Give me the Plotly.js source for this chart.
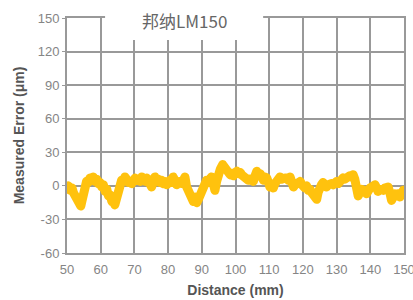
<!DOCTYPE html>
<html>
<head>
<meta charset="utf-8">
<script src="https://cdn.plot.ly/plotly-3.0.1.min.js"></script>
<style>
html,body{margin:0;padding:0;background:#fff;}
#chart{width:413px;height:300px;}
#chart .scatterlayer path.js-line{stroke-linejoin:round !important;stroke-linecap:round !important;}
</style>
</head>
<body>
<div id="chart"></div>
<script>
const chartTitle = "邦纳LM150";
const xTitle = "Distance (mm)";
const yTitle = "Measured Error (μm)";
const xTicks = [50, 60, 70, 80, 90, 100, 110, 120, 130, 140, 150];
const yTicks = [-60, -30, 0, 30, 60, 90, 120, 150];

const distance = [
  50, 50.4, 51, 51.5, 51.9, 52.4, 52.9, 53.5, 54.1, 54.4,
  54.7, 55.0, 55.4, 55.8, 56.3, 56.8, 57.3, 57.8, 58.3, 58.8,
  59.3, 59.8, 60.3, 60.8, 61.3, 61.8, 62.3, 62.8, 63.3, 63.8,
  64.2, 64.6, 64.9, 65.2, 65.5, 65.8, 66.2, 66.7, 67.2, 67.7,
  68.2, 68.7, 69.2, 69.7, 70.2, 70.7, 71.2, 71.7, 72.2, 72.7,
  73.2, 73.6, 74.1, 74.6, 75.1, 75.6, 76.1, 76.6, 77.1, 77.6,
  78.1, 78.6, 79.1, 79.6, 80.1, 80.6, 81.0, 81.5, 82.0, 82.5,
  83.0, 83.5, 84.0, 84.5, 85.0, 85.5, 86.0, 86.5, 87.0, 87.5,
  88.0, 88.5, 89.0, 89.5, 90.0, 90.4, 90.9, 91.4, 91.9, 92.4,
  92.9, 93.4, 93.9, 94.4, 94.9, 95.5, 96.2, 96.8, 97.4, 97.9,
  98.4, 98.9, 99.4, 99.9, 100.4, 100.9, 101.4, 101.8, 102.3, 102.8,
  103.3, 103.8, 104.3, 104.8, 105.3, 105.8, 106.3, 106.8, 107.3, 107.8,
  108.3, 108.8, 109.3, 109.8, 110.2, 110.7, 111.2, 111.7, 112.2, 112.7,
  113.2, 113.7, 114.2, 114.7, 115.2, 115.7, 116.2, 116.7, 117.2, 117.7,
  118.2, 118.7, 119.2, 119.7, 120.1, 120.6, 121.1, 121.6, 122.1, 122.6,
  123.1, 123.6, 124.1, 124.5, 124.9, 125.5, 126.0, 126.5, 127.0, 127.5,
  128.0, 128.5, 129.0, 129.5, 130.0, 130.5, 131.0, 131.4, 131.9, 132.4,
  132.9, 133.4, 133.9, 134.4, 134.9, 135.4, 135.9, 136.4, 136.9, 137.4,
  137.9, 138.4, 138.9, 139.4, 139.9, 140.4, 140.9, 141.4, 141.9, 142.3,
  142.8, 143.3, 143.8, 144.3, 144.8, 145.3, 145.8, 146.3, 146.8, 147.3,
  147.8, 148.3, 148.8, 149.3, 149.8, 150
];
const measuredError = [
  -3, 0, -4, -2, -6, -9, -12, -15, -18, -14,
  -9, -1, 2, 4, 3, 7, 5, 8, 4, 6,
  2, 3, -1, 1, -5, -3, -9, -8, -14, -12,
  -17, -13, -9, -4, -1, 2, 5, 4, 8, 6,
  3, 4, 2, 6, 7, 5, 6, 4, 8, 6,
  4, 7, 6, 2, -1, 3, 8, 5, 6, 3,
  5, 2, 4, 1, 3, 5, 3, 8, 5, 1,
  3, 4, 2, 5, 8, -1, -5, -9, -11, -14,
  -10, -15, -12, -9, -4, -1, 2, 5, 3, 7,
  8, 2, -4, 4, 11, 15, 19, 16, 14, 12,
  10, 11, 9, 12, 13, 11, 12, 10, 8, 9,
  7, 5, 6, 5, 4, 9, 13, 10, 11, 8,
  5, 8, 7, 3, -1, 1, -2, 2, 5, 7,
  8, 6, 8, 7, 7, 5, 8, 4, -1, 1,
  3, 2, 4, 1, -1, -2, 0, -4, -3, -6,
  -8, -10, -12, -6, -1, 1, 3, 0, -1, 1,
  3, 2, 1, 4, 4, 2, 5, 5, 7, 6,
  8, 7, 9, 8, 10, 6, -3, -9, -6, -3,
  -5, -4, -7, -3, -2, -1, 1, 1, -2, -5,
  -3, -5, -4, -2, -1, -1, -6, -13, -10, -7,
  -9, -7, -10, -6, -4, -5
];

const gridColor = "#999999";
const tickFont = {family: "Liberation Sans, Arial, sans-serif", size: 13, color: "#858585"};
const titleFont = {family: "Liberation Sans, Arial, sans-serif", size: 14, color: "#555555", weight: "bold"};

const trace = {
  x: distance,
  y: measuredError,
  type: "scatter",
  mode: "lines",
  line: {color: "#FFC20E", width: 9},
  hoverinfo: "skip"
};

const layout = {
  width: 413,
  height: 300,
  margin: {l: 67, r: 9, t: 18, b: 47},
  paper_bgcolor: "#ffffff",
  plot_bgcolor: "#ffffff",
  showlegend: false,
  xaxis: {
    range: [50, 150],
    tickvals: xTicks,
    ticktext: xTicks.map(String),
    showgrid: true,
    gridcolor: gridColor,
    gridwidth: 2,
    zeroline: false,
    showline: true,
    mirror: true,
    linecolor: gridColor,
    linewidth: 2,
    ticks: "",
    ticklabeloverflow: "allow",
    ticklabelstandoff: 3,
    tickfont: tickFont,
    title: {text: xTitle, font: titleFont, standoff: 10}
  },
  yaxis: {
    range: [-60, 150],
    tickvals: yTicks,
    ticktext: yTicks.map(String),
    showgrid: true,
    gridcolor: gridColor,
    gridwidth: 2,
    zeroline: false,
    showline: true,
    mirror: true,
    linecolor: gridColor,
    linewidth: 2,
    ticks: "outside",
    ticklen: 3,
    tickcolor: gridColor,
    tickfont: tickFont,
    title: {text: yTitle, font: titleFont, standoff: 10}
  },
  shapes: [{
    type: "rect", xref: "paper", yref: "paper",
    x0: 0.113, x1: 0.582, y0: 0.906, y1: 1.08,
    fillcolor: "#ffffff", line: {width: 0}, layer: "above"
  }],
  annotations: [{
    text: chartTitle,
    xref: "paper", yref: "paper",
    x: 0.35, y: 0.99,
    xanchor: "center", yanchor: "middle",
    showarrow: false,
    font: {family: "Noto Sans CJK SC, Noto Sans, sans-serif", size: 17, color: "#666666"}
  }]
};

Plotly.newPlot("chart", [trace], layout, {displayModeBar: false, staticPlot: true});
</script>
</body>
</html>
